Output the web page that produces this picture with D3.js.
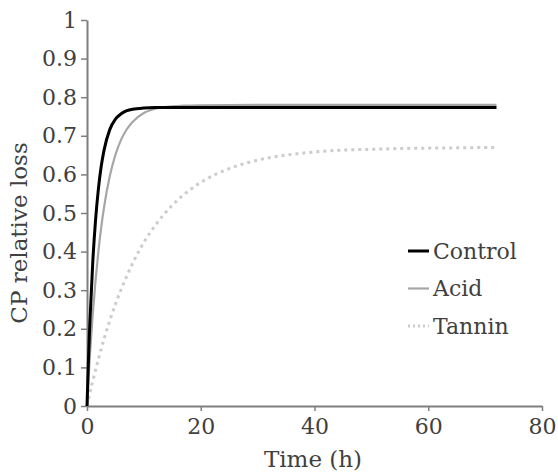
<!DOCTYPE html>
<html>
<head>
<meta charset="utf-8">
<script src="https://cdn.jsdelivr.net/npm/d3@7"></script>
<style>
  body { margin: 0; background: #fff; }
  text { font-family: "DejaVu Serif", serif; fill: #404040; }
</style>
</head>
<body>
<div id="chart"></div>
<script>

// values (time in h, relative CP loss)
var controlTime = [0, 0.25, 0.5, 1, 1.5, 2, 2.5, 3, 4, 5, 6, 7, 8, 10, 12, 20, 40, 72];
var controlLoss = [0, 0.116, 0.215, 0.369, 0.481, 0.562, 0.621, 0.663, 0.716, 0.743, 0.757, 0.765, 0.769, 0.772, 0.773, 0.773, 0.773, 0.773];

var acidTime = [0, 0.5, 1, 1.5, 2, 2.5, 3, 4, 5, 6, 7, 8, 10, 12, 14, 17, 20, 30, 72];
var acidLoss = [0, 0.129, 0.236, 0.325, 0.4, 0.463, 0.515, 0.595, 0.651, 0.69, 0.717, 0.736, 0.759, 0.77, 0.775, 0.778, 0.779, 0.78, 0.78];

var tanninTime = [0, 1, 2, 3, 4, 5, 6, 8, 10, 12, 15, 18, 21, 25, 30, 35, 40, 45, 50, 55, 60, 66, 72];
var tanninLoss = [0, 0.064, 0.121, 0.174, 0.221, 0.264, 0.302, 0.369, 0.424, 0.468, 0.52, 0.559, 0.588, 0.615, 0.637, 0.65, 0.658, 0.663, 0.665, 0.667, 0.668, 0.669, 0.67];

var seriesNames = ["Control", "Acid", "Tannin"];
var xTicks = [0, 20, 40, 60, 80];
var yTicks = [0, 0.1, 0.2, 0.3, 0.4, 0.5, 0.6, 0.7, 0.8, 0.9, 1];

var margin = { top: 20, right: 16, bottom: 68, left: 87 },
    width = 558 - margin.left - margin.right,
    height = 474 - margin.top - margin.bottom;

var svg = d3.select("#chart")
    .append("svg")
    .attr("width", 558)
    .attr("height", 474)
    .append("g")
    .attr("transform", "translate(" + margin.left + "," + margin.top + ")");

var x = d3.scaleLinear().domain([0, 80]).range([0, 455]);
var y = d3.scaleLinear().domain([0, 1]).range([height, 0]);

function zip(t, v) {
    return t.map(function (d, i) { return { t: d, v: v[i] }; });
}

var series = [
    { name: "Control", data: zip(controlTime, controlLoss), color: "#000000", width: 3, dash: null },
    { name: "Acid", data: zip(acidTime, acidLoss), color: "#a6a6a6", width: 2.2, dash: null },
    { name: "Tannin", data: zip(tanninTime, tanninLoss), color: "#cccccc", width: 3, dash: "3,4" }
];

// axes
var xAxis = svg.append("g")
    .attr("transform", "translate(0," + height + ")")
    .call(d3.axisBottom(x).tickValues(xTicks).tickSize(5).tickSizeOuter(0).tickFormat(d3.format("d")));

var yAxis = svg.append("g")
    .call(d3.axisLeft(y).tickValues(yTicks).tickSize(6).tickSizeOuter(0).tickFormat(function (d) { return d === 0 || d === 1 ? d : d3.format(".1f")(d); }));

[xAxis, yAxis].forEach(function (a) {
    a.select(".domain").attr("stroke", "#7f7f7f").attr("stroke-width", 2);
    a.selectAll(".tick line").attr("stroke", "#7f7f7f").attr("stroke-width", 1.5);
    a.selectAll(".tick text")
        .style("font-family", "DejaVu Serif, serif")
        .style("font-size", "22px")
        .attr("fill", "#404040");
});
xAxis.selectAll(".tick text").attr("dy", "0.9em");
yAxis.selectAll(".tick text").attr("x", -10);

// axis titles
svg.append("text")
    .attr("x", 226)
    .attr("y", height + 61)
    .attr("text-anchor", "middle")
    .style("font-size", "23px")
    .text("Time (h)");

svg.append("text")
    .attr("transform", "translate(-60," + (height / 2 + 20) + ") rotate(-90)")
    .attr("text-anchor", "middle")
    .style("font-size", "23px")
    .text("CP relative loss");

// lines
var line = d3.line()
    .x(function (d) { return x(d.t); })
    .y(function (d) { return y(d.v); })
    .curve(d3.curveMonotoneX);

svg.selectAll(".series")
    .data(series.slice().reverse())
    .join("path")
    .attr("class", "series")
    .attr("d", function (d) { return line(d.data); })
    .attr("fill", "none")
    .attr("stroke", function (d) { return d.color; })
    .attr("stroke-width", function (d) { return d.width; })
    .attr("stroke-dasharray", function (d) { return d.dash; });

// legend
var legend = svg.selectAll(".legend")
    .data(series)
    .join("g")
    .attr("class", "legend")
    .attr("transform", function (d, i) { return "translate(321," + (231 + i * 37.5) + ")"; });

legend.append("line")
    .attr("x1", 0)
    .attr("x2", 21)
    .attr("stroke", function (d) { return d.color; })
    .attr("stroke-width", function (d) { return d.width; })
    .attr("stroke-dasharray", function (d) { return d.dash ? "2,3" : null; });

legend.append("text")
    .attr("x", 25)
    .attr("dy", "0.35em")
    .style("font-size", "22px")
    .text(function (d, i) { return seriesNames[i]; });

</script>
</body>
</html>
